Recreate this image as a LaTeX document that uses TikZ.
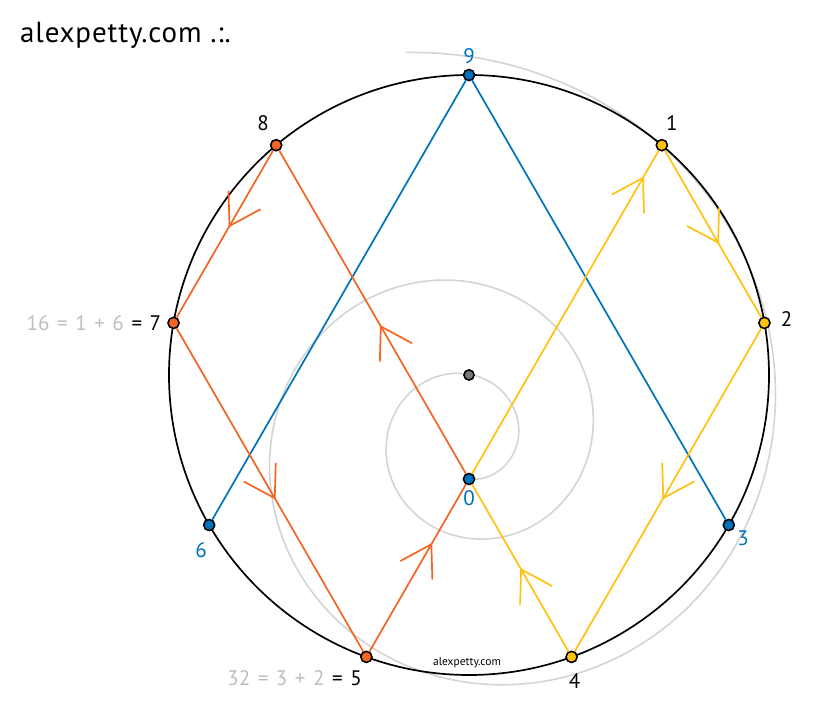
\documentclass[tikz,border=0pt]{standalone}
\usepackage{fontspec}
\setmainfont{PT Sans}
\newfontfamily\numfont{PT Sans}[WordSpace=1.35]
\usetikzlibrary{positioning,arrows.meta,decorations.markings}
\definecolor{vblue}{RGB}{0,114,188}
\definecolor{vorange}{RGB}{242,101,34}
\definecolor{vyellow}{RGB}{255,194,14}
\definecolor{vgray}{RGB}{212,212,212}
\definecolor{tgray}{RGB}{190,190,190}
\definecolor{cgray}{RGB}{120,120,120}
\tikzset{chev/.tip={Straight Barb[length=30pt,width=37pt]},
  flow/.style={postaction={decorate}, decoration={markings, mark=at position #1 with {\arrow{chev}}}}}

\begin{document}
\begin{tikzpicture}[x=1pt,y=1pt]
 	\tikzstyle{dot}=[circle, minimum size=11pt, inner sep=0pt, draw=black, line width=1.4pt]
 	\tikzstyle{num}=[inner sep=0pt, font=\numfont\fontsize{21}{21}\selectfont]
 	\tikzstyle{connect}=[line width=1.7pt]
 	\useasboundingbox (-469,-337) rectangle (348,375);
 	% spiral and wheel
 	\draw[vgray, line width=1.6pt] plot[domain=-90:819, samples=400] ({-2+41*pow(1.25,(\x+90)/90)*cos(\x)}, {-63+41*pow(1.25,(\x+90)/90)*sin(\x)});
 	\draw[line width=1.7pt] (0,0) circle (300pt);
 	\node[dot, fill=cgray, minimum size=10pt] (c) at (0,0) {};
 	\node[dot, fill=vblue] (n0) at (0,-104) {};
 	\foreach \k/\col in {1/vyellow,2/vyellow,3/vblue,4/vyellow,5/vorange,6/vblue,7/vorange,8/vorange,9/vblue}
 		\node[dot, fill=\col] (n\k) at ({90-40*\k}:300pt) {};
 	\draw[connect, vblue] (n6) -- (n9);
 	\draw[connect, vblue] (n9) -- (n3);
 	\draw[connect, vorange, flow=0.46] (n8) -- (n7);
 	\draw[connect, vorange, flow=0.53] (n7) -- (n5);
 	\draw[connect, vorange, flow=0.65] (n5) -- (n0);
 	\draw[connect, vorange, flow=0.46] (n0) -- (n8);
 	\draw[connect, vyellow, flow=0.92] (n0) -- (n1);
 	\draw[connect, vyellow, flow=0.56] (n1) -- (n2);
 	\draw[connect, vyellow, flow=0.53] (n2) -- (n4);
 	\draw[connect, vyellow, flow=0.5] (n4) -- (n0);
 	% dots again on top
 	\node[dot, fill=cgray, minimum size=10pt] at (c) {};
 	\node[dot, fill=vblue] at (n0) {};
 	\foreach \k/\col in {1/vyellow,2/vyellow,3/vblue,4/vyellow,5/vorange,6/vblue,7/vorange,8/vorange,9/vblue}
 		\node[dot, fill=\col] at (n\k) {};
 	% labels
 	\node[num, text=vblue, above=5pt of n9] (l9) {9};
 	\node[num, above=8pt of n1, xshift=10pt] (l1) {1};
 	\node[num, right=10pt of n2, yshift=4pt] (l2) {2};
 	\node[num, text=vblue, below right=1pt and 4pt of n3] (l3) {3};
 	\node[num, below=10pt of n4, xshift=3pt] (l4) {4};
 	\node[num, below left=9pt and 0pt of n5] (l5) {\textcolor{tgray}{32 = 3 + 2} = 5};
 	\node[num, text=vblue, below=11pt of n6, xshift=-8pt] (l6) {6};
 	\node[num, left=6pt of n7] (l7) {\textcolor{tgray}{16 = 1 + 6} = 7};
 	\node[num, above=8pt of n8, xshift=-13pt] (l8) {8};
 	\node[num, text=vblue, below=5pt of n0] (l0) {0};
 	\node[font=\fontsize{11.5}{11.5}\selectfont] (site) at (-2,-288) {alexpetty.com};
 	\node[anchor=base west, inner sep=0pt, font=\fontsize{29}{29}\selectfont\addfontfeature{LetterSpace=3}] (title) at (-449,332) {alexpetty.com .:.};
\end{tikzpicture}
\end{document}
